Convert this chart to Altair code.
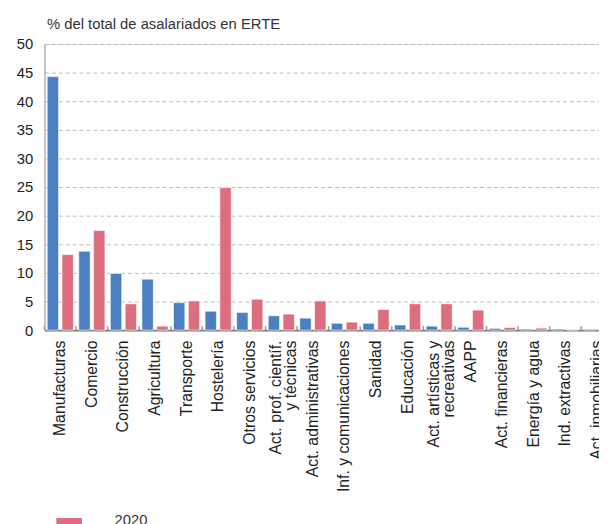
import altair as alt
import pandas as pd

categories = [
    "Manufacturas", "Comercio", "Construcción", "Agricultura", "Transporte",
    "Hostelería", "Otros servicios", "Act. prof. científ.\ny técnicas",
    "Act. administrativas", "Inf. y comunicaciones", "Sanidad", "Educación",
    "Act. artísticas y\nrecreativas", "AAPP", "Act. financieras",
    "Energía y agua", "Ind. extractivas", "Act. inmobiliarias",
]
series_names = ["2009", "2020"]
values_2009 = [44.3, 13.8, 9.9, 8.9, 4.8, 3.3, 3.1, 2.5, 2.1, 1.2, 1.2, 0.9, 0.7, 0.5, 0.3, 0.2, 0.2, 0.15]
values_2020 = [13.2, 17.4, 4.6, 0.7, 5.1, 24.9, 5.4, 2.8, 5.1, 1.4, 3.6, 4.6, 4.6, 3.5, 0.45, 0.35, 0.05, 0.2]
y_ticks = list(range(0, 51, 5))

rows = []
for c, a, b in zip(categories, values_2009, values_2020):
    rows.append({"cat": c, "year": series_names[0], "value": a})
    rows.append({"cat": c, "year": series_names[1], "value": b})
df = pd.DataFrame(rows)
ticks_df = pd.DataFrame({"cat": categories})

BLUE = "#4a7fc1"
PINK = "#dc6e80"
FONT = "Liberation Sans"

x_scale = alt.Scale(domain=categories, range=[0, 576], paddingInner=0, paddingOuter=0)
y_scale = alt.Scale(domain=[0, 50], nice=False)

x_axis = alt.Axis(
    title=None, labelAngle=-90, labelFontSize=16, labelPadding=10, ticks=False,
    domainColor="#7f7f7f", domainWidth=2, labelColor="#222",
    labelExpr="split(datum.label, '\\n')", labelLimit=300, labelLineHeight=15,
    labelOffset={"condition": {"test": "indexof(datum.value, '\\n') >= 0", "value": -5}, "value": 0},
)

y_axis = alt.Axis(
    values=y_ticks, title="% del total de asalariados en ERTE",
    titleAngle=0, titleX=2, titleY=-16, titleAlign="left",
    titleBaseline="alphabetic", titleFontSize=15, titleFontWeight="normal",
    titleColor="#333", grid=True, gridDash=[4, 3], gridColor="#bbbbbb",
    ticks=False, labelPadding=12, domainColor="#999", labelFontSize=15,
    labelColor="#222", labelOverlap=False,
)

bars = alt.Chart(df).mark_bar(stroke="white", strokeWidth=1, strokeOpacity=0.6).encode(
    x=alt.X("cat:N", sort=categories, scale=x_scale, axis=x_axis),
    xOffset=alt.XOffset("year:N", sort=series_names,
                        scale=alt.Scale(paddingInner=0.233, paddingOuter=0.183)),
    y=alt.Y("value:Q", scale=y_scale, axis=y_axis),
    color=alt.Color("year:N", scale=alt.Scale(domain=series_names, range=[BLUE, PINK]),
                    legend=alt.Legend(
                        values=["2020"], orient="none", legendX=-1, legendY=456,
                        title=None, symbolType="M-0.5,-0.06H0.5V0.19H-0.5Z",
                        symbolSize=2704, symbolStrokeWidth=0, labelFontSize=15,
                        labelColor="#333", padding=0, labelOffset=20)),
)

tick_marks = alt.Chart(ticks_df).mark_rule(color="#999", strokeWidth=1.5).encode(
    x=alt.X("cat:N", sort=categories, scale=x_scale, bandPosition=0, axis=x_axis),
    y=alt.datum(0, scale=y_scale, axis=y_axis),
    y2=alt.datum(0.7),
)

chart = alt.layer(bars, tick_marks).properties(
    width=562, height=290,
    autosize=alt.AutoSizeParams(type="none"),
    padding={"left": 37, "top": 33, "right": 0, "bottom": 193},
).configure_view(stroke=None).configure(font=FONT)

chart.save("out.html", embed_options={"renderer": "svg", "actions": False})
